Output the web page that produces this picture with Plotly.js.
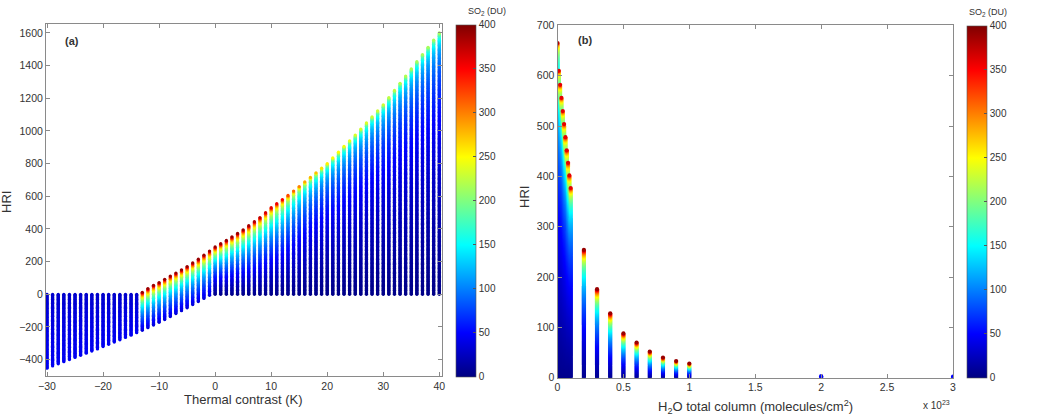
<!DOCTYPE html>
<html>
<head>
<meta charset="utf-8">
<script src="https://cdn.plot.ly/plotly-3.0.1.min.js"></script>
<style>html,body{margin:0;padding:0;background:#fff;}#chart{width:1042px;height:417px;}</style>
</head>
<body>
<div id="chart"></div>
<script>
// ---------- Panel (a): HRI vs thermal contrast ----------
const tcA = [-30,-29,-28,-27,-26,-25,-24,-23,-22,-21,-20,-19,-18,-17,-16,-15,-14,-13,-12,-11,-10,-9,-8,-7,-6,-5,-4,-3,-2,-1,0,1,2,3,4,5,6,7,8,9,10,11,12,13,14,15,16,17,18,19,20,21,22,23,24,25,26,27,28,29,30,31,32,33,34,35,36,37,38,39,40];
// bottom of each column (HRI)
const loA = [-452,-438,-425,-412,-399,-386,-373,-360,-347,-334,-320,-306,-292,-278,-264,-250,-235,-220,-204,-188,-171,-154,-136,-118,-100,-82,-63,-44,-25,-6,0,0,0,0,0,0,0,0,0,0,0,0,0,0,0,0,0,0,0,0,0,0,0,0,0,0,0,0,0,0,0,0,0,0,0,0,0,0,0,0,0];
// top of each column (HRI)
const hiA = [0,0,0,0,0,0,0,0,0,0,0,0,0,0,0,0,0,12,35,55,72,92,112,130,150,170,192,215,240,265,290,310,330,352,373,395,420,445,470,500,530,555,580,605,632,660,688,716,744,772,800,835,870,905,940,975,1012,1049,1086,1123,1160,1204,1248,1292,1336,1380,1424,1468,1512,1556,1600];
// SO2 colour (DU) at the top and bottom of each column
const topA = [30,30,30,30,30,30,30,30,30,30,30,30,30,30,30,30,30,390,390,390,390,390,390,390,390,390,390,390,390,390,390,390,390,390,390,390,385,380,375,365,360,355,350,320,310,300,285,280,275,260,255,250,250,245,240,235,235,235,230,230,230,225,225,220,220,220,215,215,215,215,215];
const botA = [45,45,45,45,45,45,45,45,45,45,45,45,45,45,45,45,45,35,35,35,35,35,35,35,35,35,35,35,35,35,3,3,3,3,3,3,3,3,3,3,3,3,3,3,3,3,3,3,3,3,3,3,3,3,3,3,3,3,3,3,3,3,3,3,3,3,3,3,3,3,3];
// how sharply the colour saturates towards the top of each column
const satA = [1,1,1,1,1,1,1,1,1,1,1,1,1,1,1,1,1,3,3,3,3,3,3,3,3,3,3,3,3,3,3.2,3.2,3.2,3.3,3.3,3.4,3.4,3.5,3.5,3.6,3.7,3.8,3.9,4,4.2,4.4,4.6,4.8,5,5,5,5,5,5,5,5,5,5,5,5,5,5,5,5,5,5,5,5,5,5,5];

// ---------- Panel (b): HRI vs H2O total column (x 1e23) ----------
const h2oB = [0,0.01,0.02,0.03,0.04,0.05,0.06,0.07,0.08,0.09,0.1,0.2,0.3,0.4,0.5,0.6,0.7,0.8,0.9,1.0,2,3];
const loB  = [0,0,0,0,0,0,0,0,0,0,0,0,0,0,0,0,0,0,0,0,0,0];
const hiB  = [665,610,582,556,530,504,478,452,427,402,377,254,176,128,88,70,52,40,33,28,3,2];
const topB = [380,360,360,360,360,360,360,360,360,360,360,390,390,390,390,390,390,390,390,390,50,50];
const botB = [5,5,5,5,5,5,5,5,5,5,5,5,5,5,5,5,5,5,5,5,40,40];
const satB = [6.5,6.2,6,6,5.8,5.6,5.4,5.2,5,5,5,4,3.5,3.2,3,2.8,2.6,2.5,2.5,2.5,1,1];

// tick labels
const xTicksA = [-30,-20,-10,0,10,20,30,40];
const yTicksA = [-400,-200,0,200,400,600,800,1000,1200,1400,1600];
const xTicksB = [0,0.5,1,1.5,2,2.5,3];
const yTicksB = [0,100,200,300,400,500,600,700];
const cbTicks = [0,50,100,150,200,250,300,350,400];

// Expand each column (x, bottom, top, colour at bottom/top, saturation) into marker samples
function buildColumns(xs, lo, hi, cb, ct, sat, step) {
  const X = [], Y = [], C = [];
  for (let i = 0; i < xs.length; i++) {
    const a = lo[i], b = hi[i], span = b - a, k = sat[i];
    const n = Math.max(1, Math.round(span / step));
    const norm = 1 - Math.exp(-k);
    for (let j = 0; j <= n; j++) {
      const f = j / n;
      const g = -Math.log(1 - f * norm) / k;
      X.push(xs[i]);
      Y.push(a + span * f);
      C.push(cb[i] + (ct[i] - cb[i]) * g);
    }
  }
  return {X, Y, C};
}

const jet = [[0,'#000080'],[0.125,'#0000ff'],[0.375,'#00ffff'],[0.625,'#ffff00'],[0.875,'#ff0000'],[1,'#800000']];
const txt = '#333333';
const axCol = '#8a8a8a';
const fam = '"Liberation Sans", Arial, Helvetica, sans-serif';

const A = buildColumns(tcA, loA, hiA, botA, topA, satA, 5);
const B = buildColumns(h2oB, loB, hiB, botB, topB, satB, 2);

function cbar(x, y) {
  return {x: x, xanchor: 'left', xpad: 0, ypad: 0, y: y, yanchor: 'middle',
    len: 0.8441, lenmode: 'fraction', thickness: 20, thicknessmode: 'pixels',
    tickvals: cbTicks, ticks: 'inside', ticklen: 3, tickcolor: '#555',
    tickfont: {size: 10, color: txt, family: fam}, outlinewidth: 0.6, outlinecolor: '#555'};
}

const traceA = {type: 'scatter', mode: 'markers', x: A.X, y: A.Y, xaxis: 'x', yaxis: 'y',
  hoverinfo: 'skip', showlegend: false,
  marker: {symbol: 'circle', size: 3.3, color: A.C, cmin: 0, cmax: 400, colorscale: jet,
    line: {width: 0}, showscale: true, colorbar: cbar(0.43762, 0.51799)}};
const traceB = {type: 'scatter', mode: 'markers', x: B.X, y: B.Y, xaxis: 'x2', yaxis: 'y2',
  hoverinfo: 'skip', showlegend: false,
  marker: {symbol: 'circle', size: 4.2, color: B.C, cmin: 0, cmax: 400, colorscale: jet,
    line: {width: 0}, showscale: true, colorbar: cbar(0.92774, 0.51559)}};

function ax(extra) {
  return Object.assign({showgrid: false, zeroline: false, showline: true, linecolor: axCol, linewidth: 1,
    mirror: 'ticks', ticks: 'inside', ticklen: 4, tickcolor: axCol,
    tickfont: {size: 10.5, color: txt, family: fam}}, extra);
}

function ann(text, x, y, size, extra) {
  return Object.assign({text: text, x: x, y: y, xref: 'paper', yref: 'paper', showarrow: false,
    xanchor: 'center', yanchor: 'middle', font: {size: size, color: txt, family: fam}}, extra || {});
}

const layout = {
  width: 1042, height: 417, margin: {l: 0, r: 0, t: 0, b: 0},
  paper_bgcolor: '#ffffff', plot_bgcolor: '#ffffff',
  font: {family: fam, color: txt},
  xaxis: ax({domain: [0.04415, 0.42390], range: [-30.18, 40.43], tickvals: xTicksA, anchor: 'y'}),
  yaxis: ax({domain: [0.09832, 0.94245], range: [-500, 1655], tickvals: yTicksA, anchor: 'x'}),
  xaxis2: ax({domain: [0.53503, 0.91459], range: [0, 3], tickvals: xTicksB, anchor: 'y2'}),
  yaxis2: ax({domain: [0.09424, 0.93885], range: [0, 700], tickvals: yTicksB, anchor: 'x2'}),
  annotations: [
    ann('HRI', 0.0067, 0.5156, 13, {textangle: -90}),
    ann('HRI', 0.5038, 0.5276, 13, {textangle: -90}),
    ann('Thermal contrast (K)', 0.2332, 0.0408, 13),
    ann('H<sub>2</sub>O total column (molecules/cm<sup>2</sup>)', 0.7255, 0.024, 13),
    ann('x 10<sup>23</sup>', 0.8992, 0.0288, 10),
    ann('<b>(a)</b>', 0.0691, 0.9017, 11),
    ann('<b>(b)</b>', 0.5614, 0.9041, 11),
    ann('SO<sub>2</sub> (DU)', 0.4674, 0.9736, 9),
    ann('SO<sub>2</sub> (DU)', 0.9482, 0.9712, 9)
  ]
};

Plotly.newPlot('chart', [traceA, traceB], layout, {displayModeBar: false, staticPlot: true});
</script>
</body>
</html>
